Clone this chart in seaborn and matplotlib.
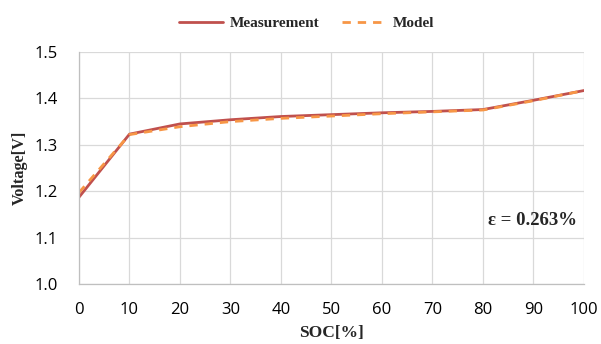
import matplotlib
matplotlib.use("Agg")
import matplotlib.pyplot as plt
import seaborn as sns
import pandas as pd
from matplotlib.lines import Line2D

soc = [0, 10, 20, 30, 40, 50, 60, 70, 80, 90, 100]
measurement = [1.187, 1.323, 1.345, 1.354, 1.361, 1.365, 1.369, 1.372, 1.376, 1.396, 1.417]
model = [1.197, 1.322, 1.339, 1.350, 1.357, 1.362, 1.367, 1.371, 1.375, 1.395, 1.417]
xticks = [0, 10, 20, 30, 40, 50, 60, 70, 80, 90, 100]
yticks = [1.0, 1.1, 1.2, 1.3, 1.4, 1.5]

df = pd.DataFrame({"SOC": soc * 2,
                   "Voltage": measurement + model,
                   "Series": ["Measurement"] * len(soc) + ["Model"] * len(soc)})

sns.set_style("white")
fig = plt.figure(figsize=(6.01, 3.44), dpi=100)
ax = fig.add_axes([0.1314, 0.1744, 0.8403, 0.6744])

sns.lineplot(data=df, x="SOC", y="Voltage", hue="Series", style="Series",
             palette={"Measurement": "#C0504D", "Model": "#F79646"},
             dashes={"Measurement": "", "Model": (3, 2.5)},
             linewidth=2, ax=ax, legend=False)

ax.set_xlim(0, 100)
ax.set_ylim(1.0, 1.5)
ax.set_xticks(xticks)
ax.set_yticks(yticks)
ax.set_yticklabels([f"{v:.1f}" for v in yticks])
ax.grid(True, color="#D9D9D9", linewidth=0.9)
for s in ["top", "right"]:
    ax.spines[s].set_visible(False)
for s in ["left", "bottom"]:
    ax.spines[s].set_color("#BFBFBF")
    ax.spines[s].set_linewidth(0.9)
ax.tick_params(axis="both", length=0, colors="#000000")
ax.tick_params(axis="x", pad=13)
ax.tick_params(axis="y", pad=15)
for lbl in ax.get_xticklabels() + ax.get_yticklabels():
    lbl.set_family("Open Sans")
    lbl.set_fontsize(12)

ax.set_xlabel("SOC[%]", family="Liberation Serif", weight="bold", fontsize=12.5)
ax.set_ylabel("Voltage[V]", family="Liberation Serif", weight="bold", fontsize=11.7)
ax.xaxis.set_label_coords(0.5, -0.176)
ax.yaxis.set_label_coords(-0.102, 0.5)

ax.text(0.986, 0.275, "ε = 0.263%", transform=ax.transAxes, ha="right", va="center",
        family="Liberation Serif", weight="bold", fontsize=13.5)

handles = [Line2D([], [], color="#C0504D", lw=2),
           Line2D([], [], color="#F79646", lw=2, dashes=(3, 2.5))]
fig.legend(handles, ["Measurement", "Model"], loc="center", bbox_to_anchor=(0.51, 0.932),
           ncol=2, frameon=False, prop={"family": "Liberation Serif", "weight": "bold", "size": 11},
           handlelength=2.9, columnspacing=1.5, handletextpad=0.4)

fig.savefig("out.png", dpi=100)
